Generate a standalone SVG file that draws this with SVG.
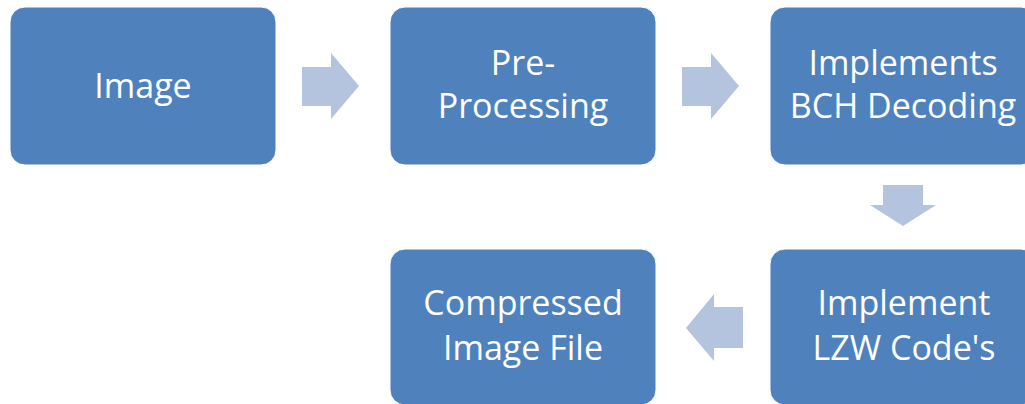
<svg xmlns="http://www.w3.org/2000/svg" width="1025" height="404" viewBox="0 0 1025 404">
<style>
.box{fill:#4F81BD;stroke:#FFFFFF;stroke-width:1}
.arr{fill:#B4C3DE}
.t{font-family:"Open Sans","Liberation Sans",sans-serif;font-size:34px;fill:#FFFFFF;text-anchor:middle}
</style>
<rect width="1025" height="404" fill="#FFFFFF"/>
<g id="connectors">
<polygon class="arr" points="302,67 331,67 331,53 359,86 331,119 331,106 302,106"/>
<polygon class="arr" points="682,67 711,67 711,53 739,86 711,119 711,106 682,106"/>
<polygon class="arr" points="883,185 923,185 923,205 936,205 903,226 870,205 883,205"/>
<polygon class="arr" points="743,307 714,307 714,294 686,328 714,361 714,348 743,348"/>
</g>
<g id="node-image">
<rect class="box" x="10" y="7" width="266" height="158" rx="15"/>
<text class="t" x="143" y="98">Image</text>
</g>
<g id="node-preprocessing">
<rect class="box" x="390" y="7" width="266" height="158" rx="15"/>
<text class="t" x="523" y="75">Pre-</text>
<text class="t" x="523" y="118">Processing</text>
</g>
<g id="node-bch">
<rect class="box" x="770" y="7" width="266" height="158" rx="15"/>
<text class="t" x="903" y="75">Implements</text>
<text class="t" x="903" y="118">BCH Decoding</text>
</g>
<g id="node-lzw">
<rect class="box" x="770" y="249" width="266" height="156" rx="15"/>
<text class="t" x="904" y="315">Implement</text>
<text class="t" x="904" y="360">LZW Code's</text>
</g>
<g id="node-compressed">
<rect class="box" x="390" y="249" width="266" height="156" rx="15"/>
<text class="t" x="523" y="315">Compressed</text>
<text class="t" x="523" y="360">Image File</text>
</g>
</svg>
